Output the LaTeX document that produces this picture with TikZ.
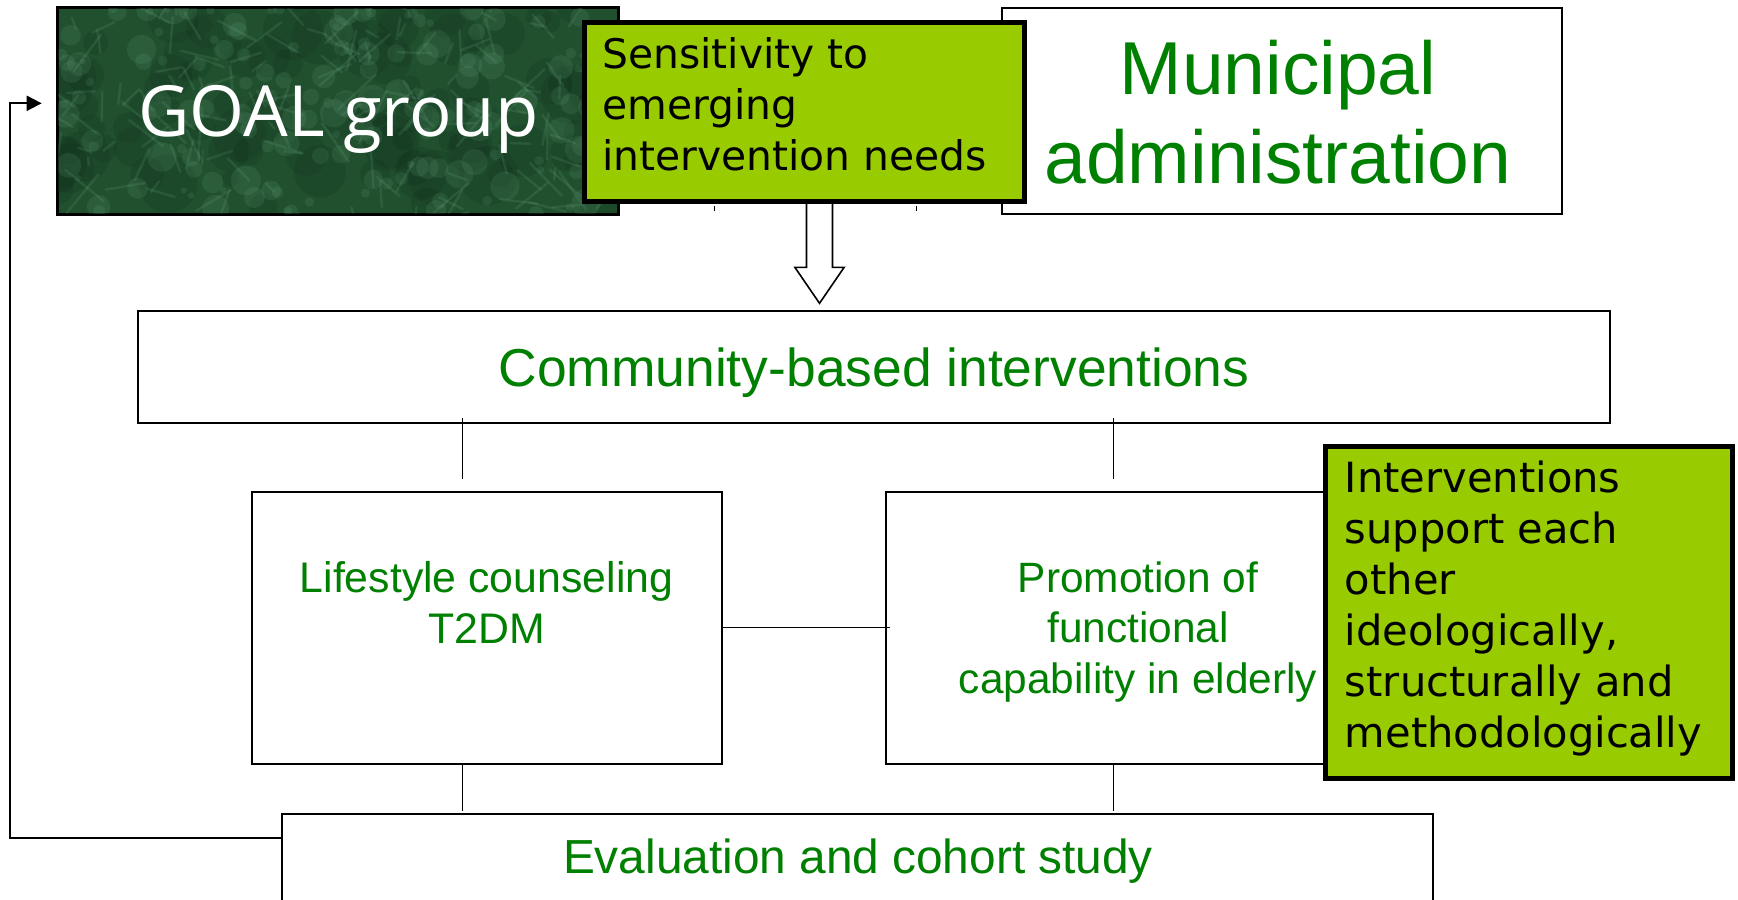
\documentclass[tikz,border=0pt]{standalone}
\usepackage{fontspec}
\setmainfont{Liberation Sans}
\newfontfamily\verd{DejaVu Sans}
\newfontfamily\goalfont{Open Sans}
\usetikzlibrary{arrows.meta,calc}
\definecolor{lime}{HTML}{99CC00}
\definecolor{pgreen}{HTML}{008000}
\definecolor{goalbg}{HTML}{21502F}
\definecolor{goallight}{HTML}{6FB08A}
\definecolor{goaldark}{HTML}{0E2B19}
\tikzset{
  box/.style={draw=black, line width=1pt, fill=white, inner sep=0pt, rectangle},
  limebox/.style={draw=black, line width=2.5pt, fill=lime, inner sep=0pt, rectangle},
  conn/.style={draw=black, line width=0.7pt},
  gtext/.style={text=pgreen, inner sep=0pt},
  btext/.style={text=black, inner sep=0pt, font=\verd\fontsize{20.8pt}{25.5pt}\selectfont},
}
\begin{document}
\begin{tikzpicture}[x=0.5pt,y=-0.5pt]
\useasboundingbox (0,0) rectangle (1738,899);
\clip (0,0) rectangle (1738,899);

% GOAL group box with mottled texture
\node[box, fill=goalbg, minimum width=280pt, minimum height=103pt] (goal) at (338,111) {};
\begin{scope}
  \clip (goal.south west) rectangle (goal.north east);
  \pgfmathsetseed{11}
  \foreach \i in {1,...,90}{
    \pgfmathsetmacro\xa{58+560*rnd}
    \pgfmathsetmacro\ya{8+206*rnd}
    \pgfmathsetmacro\r{8+22*rnd}
    \fill[goaldark, opacity=0.18] (\xa,\ya) circle[radius=\r];
  }
  \foreach \i in {1,...,160}{
    \pgfmathsetmacro\xa{58+560*rnd}
    \pgfmathsetmacro\ya{8+206*rnd}
    \pgfmathsetmacro\r{3+12*rnd}
    \fill[goallight, opacity=0.14] (\xa,\ya) circle[radius=\r];
  }
  \foreach \i in {1,...,160}{
    \pgfmathsetmacro\xa{58+560*rnd}
    \pgfmathsetmacro\ya{8+206*rnd}
    \pgfmathsetmacro\dx{40*rand}
    \pgfmathsetmacro\dy{40*rand}
    \draw[goallight, opacity=0.16, line width=1.2pt, line cap=round] (\xa,\ya) -- ++(\dx,\dy);
  }
\end{scope}
\draw[line width=1pt] (goal.south west) rectangle (goal.north east);
\node[inner sep=0pt, text=white, font=\goalfont\fontsize{35.3pt}{40pt}\selectfont, anchor=base] (goaltext) at (338.4,136.7) {GOAL group};

% Municipal administration
\node[box, minimum width=280pt, minimum height=103pt] (muni) at (1282,111) {};
\node[gtext, anchor=base, font=\fontsize{37.5pt}{44pt}\selectfont] (munitext) at (1278,95)
  {\begin{tabular}[t]{@{}c@{}}Municipal\\administration\end{tabular}};

% hollow block arrow
\coordinate (atip) at (819.5,303.3);
\draw[line width=0.8pt, fill=white] (atip) ++(-13,-113) -- ++(0,77) -- ++(-11.65,0) -- (atip)
  -- ++(24.65,-36) -- ++(-11.65,0) -- ++(0,-77) -- cycle;

% Sensitivity box
\node[limebox, minimum width=220pt, minimum height=89.5pt] (sens) at (804.5,112) {};
\node[btext, anchor=base west, font=\verd\fontsize{20.4pt}{25.5pt}\selectfont] (senstext) at (602,68.3)
  {\begin{tabular}[t]{@{}l@{}}Sensitivity to\\emerging\\intervention needs\end{tabular}};
\draw[line width=0.6pt] ($(sens.south west)+(132.2,2)$) -- ++(0,5);
\draw[line width=0.6pt] ($(sens.south west)+(334.5,2)$) -- ++(0,5);

% Community-based interventions
\node[box, minimum width=736pt, minimum height=55.75pt] (community) at (874,366.75) {};
\node[gtext, anchor=base, font=\fontsize{26.7pt}{30pt}\selectfont] (commtext) at (874,386) {Community-based interventions};

% Lifestyle counseling
\node[box, minimum width=235.05pt, minimum height=136pt] (lifestyle) at (486.55,627.7) {};
\node[gtext, anchor=base, font=\fontsize{21.4pt}{25.4pt}\selectfont] (lifetext) at (486.5,592.2)
  {\begin{tabular}[t]{@{}c@{}}Lifestyle counseling\\T2DM\end{tabular}};

% Promotion
\node[box, minimum width=253.15pt, minimum height=136pt] (promotion) at (1138.85,627.7) {};
\node[gtext, anchor=base, font=\fontsize{21.2pt}{25.3pt}\selectfont] (promtext) at (1138,592.2)
  {\begin{tabular}[t]{@{}c@{}}Promotion of\\functional\\capability in elderly\end{tabular}};

% Evaluation
\node[box, minimum width=575.55pt, minimum height=93.15pt] (eval) at (857.45,906.85) {};
\node[gtext, anchor=base, font=\fontsize{23.9pt}{28pt}\selectfont] (evaltext) at (858,873.5) {Evaluation and cohort study};

% connectors
\draw[conn] ($(lifestyle.north)+(-23.85,-11.4)$) -- ($(lifestyle.north |- community.south)+(-23.85,-6)$);
\draw[conn] ($(promotion.north)+(-25.55,-11.4)$) -- ($(promotion.north |- community.south)+(-25.55,-6)$);
\draw[conn] ($(lifestyle.south)+(-23.85,0)$) -- ($(lifestyle.south |- eval.north)+(-23.85,-2)$);
\draw[conn] ($(promotion.south)+(-25.55,0)$) -- ($(promotion.south |- eval.north)+(-25.55,-2)$);
\draw[conn] (lifestyle.east) -- ($(promotion.west)+(5.3,0)$);

% Interventions support box
\node[limebox, minimum width=203.4pt, minimum height=166.15pt] (support) at (1528.6,612.65) {};
\node[btext, anchor=base west] (supporttext) at (1344.5,492)
  {\begin{tabular}[t]{@{}l@{}}Interventions\\support each\\other\\ideologically,\\structurally and\\methodologically\end{tabular}};

% feedback arrow
\coordinate (fbend) at (41.7,103.3);
\draw[line width=1pt, -{Triangle[length=7.5pt,width=7.5pt]}]
  ($(eval.north west)+(0,24.9)$) -| ($(fbend)+(-31.7,0)$) -- (fbend);
\end{tikzpicture}
\end{document}
